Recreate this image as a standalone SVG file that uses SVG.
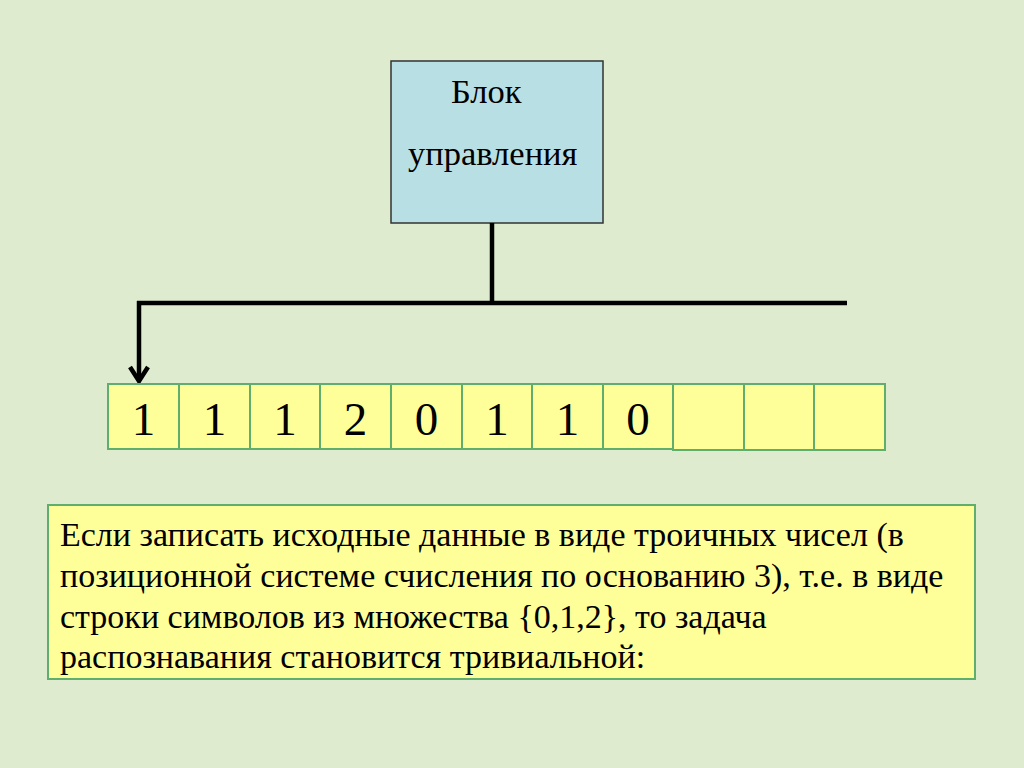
<svg xmlns="http://www.w3.org/2000/svg" width="1024" height="768" viewBox="0 0 1024 768">
<style>
.cell{fill:#ffff99;stroke:#5fae6e;stroke-width:2}
.wire{stroke:#000;stroke-width:4.5;fill:none}
</style>
<rect width="1024" height="768" fill="#deebcf"/>
<g id="control">
<rect x="391" y="61" width="212" height="162" fill="#b8dfe3" stroke="#333" stroke-width="1.5"/>
<g font-family="Liberation Serif, serif" font-size="34.5" fill="#000">
<text x="451" y="103">Блок</text>
<text x="408" y="165">управления</text>
</g>
</g>
<g id="connectors">
<path class="wire" d="M492 223V303"/>
<path class="wire" d="M137 303H847"/>
<path class="wire" d="M139 301V381"/>
<path class="wire" d="M130 367L139 381L148 367"/>
</g>
<g id="tape">
<rect class="cell" x="108" y="384" width="71" height="65"/>
<rect class="cell" x="179" y="384" width="71" height="65"/>
<rect class="cell" x="250" y="384" width="70" height="65"/>
<rect class="cell" x="320" y="384" width="71" height="65"/>
<rect class="cell" x="391" y="384" width="71" height="65"/>
<rect class="cell" x="462" y="384" width="70" height="65"/>
<rect class="cell" x="532" y="384" width="71" height="65"/>
<rect class="cell" x="603" y="384" width="70" height="65"/>
<rect class="cell" x="673" y="384" width="71" height="66"/>
<rect class="cell" x="744" y="384" width="70" height="66"/>
<rect class="cell" x="814" y="384" width="71" height="66"/>
<g font-family="Liberation Serif, serif" font-size="47" fill="#000" text-anchor="middle">
<text x="143.5" y="435">1</text>
<text x="214.5" y="435">1</text>
<text x="285" y="435">1</text>
<text x="355.5" y="435">2</text>
<text x="426.5" y="435">0</text>
<text x="497" y="435">1</text>
<text x="567.5" y="435">1</text>
<text x="638" y="435">0</text>
</g>
</g>
<g id="note">
<rect x="48" y="505" width="927" height="174" fill="#ffff99" stroke="#5fae6e" stroke-width="2"/>
<g font-family="Liberation Serif, serif" font-size="34" fill="#000">
<text x="60" y="546">Если записать исходные данные в виде троичных чисел (в</text>
<text x="60" y="587">позиционной системе счисления по основанию 3), т.е. в виде</text>
<text x="60" y="628">строки символов из множества {0,1,2}, то задача</text>
<text x="60" y="668">распознавания становится тривиальной:</text>
</g>
</g>
</svg>
